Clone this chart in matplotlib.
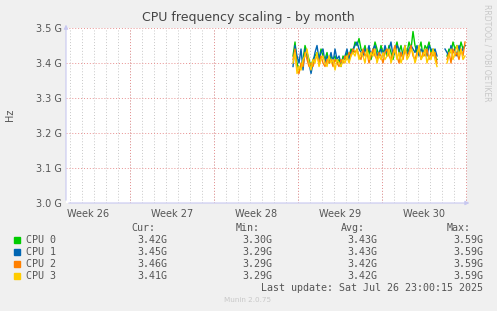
import numpy as np
import matplotlib.pyplot as plt
from matplotlib.patches import Rectangle

nan = np.nan

# series values in GHz, one sample every 4 hours
cpu0 = [3.42, 3.46, 3.40, 3.38, 3.39, 3.41, 3.45, 3.43, 3.41, 3.39,
        3.41, 3.42, 3.43, 3.41, 3.44, 3.42, 3.41, 3.43, 3.40, 3.42,
        3.41, 3.42, 3.40, 3.41, 3.39, 3.42, 3.41, 3.43, 3.42, 3.44,
        3.43, 3.46, 3.45, 3.47, 3.44, 3.43, 3.45, 3.42, 3.44, 3.41,
        3.43, 3.46, 3.44, 3.42, 3.45, 3.43, 3.44, 3.42, 3.45, 3.43,
        3.41, 3.44, 3.46, 3.43, 3.45, 3.42, 3.44, 3.43, 3.46, 3.44,
        3.49, 3.45, 3.43, 3.44, 3.46, 3.42, 3.45, 3.44, 3.46, 3.43,
        3.44, 3.42, 3.41, nan, nan, nan, nan, 3.42, 3.44, 3.43,
        3.46, 3.44, 3.45, 3.43, 3.46, 3.44, 3.45]
cpu1 = [3.39, 3.45, 3.42, 3.40, 3.44, 3.38, 3.44, 3.42, 3.40, 3.37,
        3.40, 3.43, 3.45, 3.41, 3.43, 3.44, 3.40, 3.42, 3.41, 3.43,
        3.40, 3.44, 3.41, 3.42, 3.40, 3.41, 3.42, 3.44, 3.41, 3.43,
        3.44, 3.45, 3.46, 3.44, 3.43, 3.42, 3.44, 3.43, 3.45, 3.42,
        3.44, 3.45, 3.42, 3.43, 3.44, 3.42, 3.45, 3.43, 3.44, 3.46,
        3.42, 3.43, 3.45, 3.44, 3.42, 3.43, 3.45, 3.42, 3.44, 3.45,
        3.44, 3.43, 3.45, 3.42, 3.44, 3.43, 3.44, 3.42, 3.45, 3.44,
        3.43, 3.44, 3.42, nan, nan, nan, 3.44, 3.43, 3.42, 3.45,
        3.43, 3.44, 3.42, 3.45, 3.43, 3.44, 3.45]
cpu2 = [3.41, 3.44, 3.38, 3.37, 3.40, 3.39, 3.43, 3.41, 3.39, 3.40,
        3.39, 3.41, 3.42, 3.40, 3.42, 3.40, 3.39, 3.41, 3.40, 3.41,
        3.39, 3.41, 3.40, 3.39, 3.41, 3.40, 3.42, 3.41, 3.43, 3.42,
        3.44, 3.43, 3.44, 3.42, 3.41, 3.44, 3.42, 3.43, 3.40, 3.42,
        3.44, 3.42, 3.41, 3.43, 3.42, 3.40, 3.43, 3.44, 3.42, 3.41,
        3.43, 3.45, 3.42, 3.40, 3.43, 3.41, 3.44, 3.42, 3.43, 3.45,
        3.42, 3.41, 3.43, 3.44, 3.41, 3.43, 3.42, 3.44, 3.41, 3.43,
        3.42, 3.43, 3.40, nan, nan, nan, nan, 3.41, 3.43, 3.40,
        3.44, 3.42, 3.43, 3.41, 3.44, 3.42, 3.46]
cpu3 = [3.40, 3.43, 3.37, 3.39, 3.38, 3.41, 3.42, 3.44, 3.40, 3.38,
        3.41, 3.40, 3.43, 3.39, 3.41, 3.42, 3.40, 3.39, 3.42, 3.40,
        3.41, 3.38, 3.41, 3.40, 3.39, 3.41, 3.40, 3.42, 3.40, 3.42,
        3.43, 3.42, 3.44, 3.41, 3.43, 3.42, 3.40, 3.44, 3.41, 3.43,
        3.42, 3.44, 3.40, 3.42, 3.41, 3.43, 3.41, 3.42, 3.44, 3.40,
        3.42, 3.44, 3.41, 3.43, 3.40, 3.42, 3.45, 3.41, 3.42, 3.44,
        3.43, 3.40, 3.42, 3.45, 3.41, 3.42, 3.44, 3.40, 3.42, 3.41,
        3.44, 3.41, 3.39, nan, nan, nan, nan, 3.40, 3.42, 3.44,
        3.41, 3.43, 3.45, 3.42, 3.44, 3.41, 3.42]

series = [cpu0, cpu1, cpu2, cpu3]
names = ["CPU 0", "CPU 1", "CPU 2", "CPU 3"]
colors = ["#00CC00", "#0066B3", "#FF8000", "#FFCC00"]
cur = ["3.42G", "3.45G", "3.46G", "3.41G"]
mins = ["3.30G", "3.29G", "3.29G", "3.29G"]
avgs = ["3.43G", "3.43G", "3.42G", "3.42G"]
maxs = ["3.59G", "3.59G", "3.59G", "3.59G"]
weeks = ["Week 26", "Week 27", "Week 28", "Week 29", "Week 30"]
yticks = [3.0, 3.1, 3.2, 3.3, 3.4, 3.5]
ylabels = ["3.0 G", "3.1 G", "3.2 G", "3.3 G", "3.4 G", "3.5 G"]

# time axis in days from left edge of the graph
X_END = 33.42
DATA_START = 18.92
first_week = 5.333  # first week boundary

W, H = 497, 311
fig = plt.figure(figsize=(W / 100, H / 100), dpi=100, facecolor="#F0F0F0")
ax = fig.add_axes([66 / W, 1 - 203 / H, 401 / W, 175 / H])
ax.set_facecolor("white")
ax.set_xlim(0, X_END)
ax.set_ylim(3.0, 3.5)

# grid
for d in np.arange(first_week % 1, X_END, 1.0):
    ax.axvline(d, color="#C8C8C8", lw=0.7, ls=(0, (1, 2)), zorder=1)
for d in np.arange(first_week, X_END, 7.0):
    ax.axvline(d, color="#E89090", lw=0.7, ls=(0, (1, 2)), zorder=1)
for v in yticks:
    ax.axhline(v, color="#E89090", lw=0.7, ls=(0, (1, 2)), zorder=1)

t = DATA_START + np.arange(len(cpu0)) / 6.0
for vals, c in zip(series, colors):
    ax.plot(t, vals, color=c, lw=1.0, zorder=3)

for s in ax.spines.values():
    s.set_visible(False)
ax.set_yticks(yticks)
ax.set_yticklabels(ylabels)
ax.set_xticks([first_week - 3.5 + 7 * i for i in range(len(weeks))])
ax.set_xticklabels(weeks)
ax.tick_params(length=0, labelsize=7, colors="#555555", pad=3)
ax.tick_params(axis="x", pad=4)

axis_col = "#C8C8F0"
ax.annotate("", xy=(1.013, 0), xytext=(0, 0), xycoords="axes fraction",
            arrowprops=dict(arrowstyle="-|>", color=axis_col, lw=0.8, mutation_scale=6))
ax.annotate("", xy=(0, 1.035), xytext=(0, 0), xycoords="axes fraction",
            arrowprops=dict(arrowstyle="-|>", color=axis_col, lw=0.8, mutation_scale=6))

fig.text(248 / W, 1 - 17 / H, "CPU frequency scaling - by month", ha="center", va="center",
         fontsize=9, color="#444444")
fig.text(10 / W, 1 - 115 / H, "Hz", rotation=90, ha="center", va="center",
         fontsize=7, color="#555555")
fig.text(487 / W, 1 - 53 / H, "RRDTOOL / TOBI OETIKER", rotation=270, ha="center",
         va="center", fontsize=5.5, color="#C8C8C8")

mono = dict(family="DejaVu Sans Mono", fontsize=7.2, color="#555555", va="center")
col_right = [167, 272, 377, 483]
headers = ["Cur:", "Min:", "Avg:", "Max:"]
for x, h in zip(col_right, headers):
    fig.text((x - 12) / W, 1 - 228 / H, h, ha="right", **mono)
for i, (n, c) in enumerate(zip(names, colors)):
    y = 240 + 12 * i
    fig.add_artist(Rectangle((14 / W, 1 - (y + 3) / H), 6 / W, 6 / H,
                             transform=fig.transFigure, color=c))
    fig.text(26 / W, 1 - y / H, n, ha="left", **mono)
    for x, v in zip(col_right, [cur[i], mins[i], avgs[i], maxs[i]]):
        fig.text(x / W, 1 - y / H, v, ha="right", **mono)
fig.text(483 / W, 1 - 288 / H, "Last update: Sat Jul 26 23:00:15 2025", ha="right", **mono)
fig.text(248 / W, 1 - 300 / H, "Munin 2.0.75", ha="center", va="center",
         fontsize=5.2, color="#C8C8C8")

fig.savefig("out.png", dpi=100, facecolor=fig.get_facecolor())
